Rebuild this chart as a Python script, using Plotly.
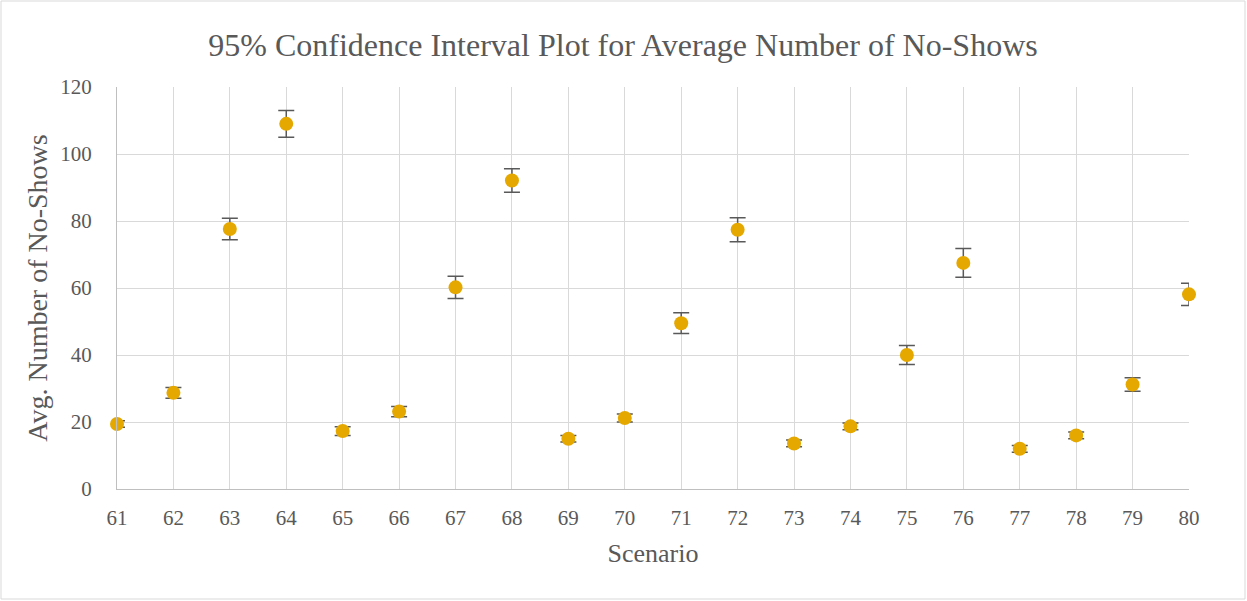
import plotly.graph_objects as go

scenarios = list(range(61, 81))
avg_no_shows = [19.4, 28.7, 77.6, 109.0, 17.3, 23.1, 60.2, 92.1, 15.0, 21.2,
                49.5, 77.4, 13.6, 18.7, 40.0, 67.5, 12.0, 16.0, 31.2, 58.1]
ci_half_width = [1.0, 1.6, 3.2, 4.0, 1.3, 1.5, 3.3, 3.5, 1.0, 1.2,
                 3.1, 3.6, 1.0, 1.0, 2.8, 4.3, 1.0, 1.0, 2.0, 3.3]
y_ticks = [0, 20, 40, 60, 80, 100, 120]

W, H = 1247, 601
L, R, T, B = 117, 58, 87, 112
pw, ph = W - L - R, H - T - B
bottom_px = H - B

fig = go.Figure()
fig.add_trace(go.Scatter(
    x=scenarios, y=avg_no_shows, mode="markers",
    marker=dict(color="#E5A800", size=14, line=dict(width=0)),
    error_y=dict(type="data", array=ci_half_width, visible=True,
                 color="#595959", thickness=1.5, width=8),
    cliponaxis=False, showlegend=False,
))

font = "Liberation Serif, Times New Roman, serif"
fig.update_layout(
    width=W, height=H,
    margin=dict(l=L, r=R, t=T, b=B),
    paper_bgcolor="white", plot_bgcolor="white",
    font=dict(family=font, color="#595959"),
    title=dict(text="95% Confidence Interval Plot for Average Number of No-Shows",
               x=623 / W, xanchor="center", y=1 - 45 / H, yanchor="middle",
               font=dict(size=32, color="#595959", family=font)),
    xaxis=dict(range=[61, 80], tickmode="array", tickvals=scenarios,
               ticktext=[str(s) for s in scenarios],
               showgrid=True, gridcolor="#D9D9D9", gridwidth=1,
               showline=True, linecolor="#BFBFBF", linewidth=1, mirror=False,
               zeroline=False, ticks="", tickfont=dict(size=21),
               ticklabelstandoff=10,
               title=dict(text="Scenario", font=dict(size=26), standoff=14)),
    yaxis=dict(range=[0, 120], tickmode="array", tickvals=y_ticks,
               showgrid=True, gridcolor="#D9D9D9", gridwidth=1,
               showline=True, linecolor="#BFBFBF", linewidth=1,
               zeroline=False, ticks="", tickfont=dict(size=21),
               ticklabelstandoff=20,
               title=dict(text="Avg. Number of No-Shows", font=dict(size=28), standoff=4)),
)

# chart-area border
fig.add_shape(type="rect", xref="paper", yref="paper",
              x0=(1 - L) / pw, x1=(W - 2 - L) / pw,
              y0=(bottom_px - (H - 2)) / ph, y1=(bottom_px - 1) / ph,
              line=dict(color="#D9D9D9", width=1), fillcolor="rgba(0,0,0,0)",
              layer="below")

fig.write_html("out.html", config={"displayModeBar": False},
               post_script="document.body.style.margin='0';")
